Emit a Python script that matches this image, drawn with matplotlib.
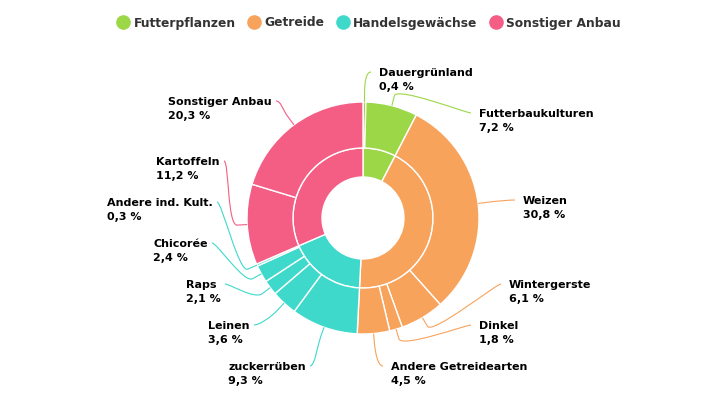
import matplotlib

matplotlib.use("Agg")
import matplotlib.pyplot as plt
import numpy as np
from matplotlib.lines import Line2D
from matplotlib.path import Path
from matplotlib.patches import PathPatch

# ── Data ──────────────────────────────────────────────────────────────────────

GROUPS = ["Futterpflanzen", "Getreide", "Handelsgewächse", "Sonstiger Anbau"]
CROPS = [
    "Dauergrünland", "Futterbaukulturen",
    "Weizen", "Wintergerste", "Dinkel", "Andere Getreidearten",
    "zuckerrüben", "Leinen", "Raps", "Chicorée", "Andere ind. Kult.",
    "Kartoffeln", "Sonstiger Anbau",
]
CROP_SHARES = [0.4, 7.2, 30.8, 6.1, 1.8, 4.5, 9.3, 3.6, 2.1, 2.4, 0.3, 11.2, 20.3]
CROP_GROUP = [0, 0, 1, 1, 1, 1, 2, 2, 2, 2, 2, 3, 3]

# ── Style / layout ────────────────────────────────────────────────────────────

GROUP_COLORS = ["#9cd747", "#f7a35c", "#3fd9cc", "#f45e84"]
W, H = 725, 400
CX, CY = 363, 218          # pixel coords (y down)
R_OUT, R_MID, R_HOLE = 116, 70, 41

# label anchor: (side, text x, first-line y) in pixel coords
LABEL_POS = [
    ("r", 379, 73), ("r", 479, 114),
    ("r", 523, 201), ("r", 509, 285), ("r", 479, 326), ("r", 391, 367),
    ("l", 306, 367), ("l", 250, 326), ("l", 221, 285), ("l", 208, 244), ("l", 213, 203),
    ("l", 220, 162), ("l", 272, 102),
]


def fy(y):
    return H - y


def fmt(v):
    return f"{v:.1f}".replace(".", ",") + " %"


group_shares = [sum(s for s, g in zip(CROP_SHARES, CROP_GROUP) if g == i) for i in range(len(GROUPS))]
crop_colors = [GROUP_COLORS[g] for g in CROP_GROUP]

fig = plt.figure(figsize=(W / 100, H / 100), dpi=100)
ax = fig.add_axes([0, 0, 1, 1])

wp = dict(edgecolor="white", linewidth=1.0)
ax.pie(group_shares, radius=R_MID, center=(CX, fy(CY)), startangle=90, counterclock=False,
       colors=GROUP_COLORS, wedgeprops=dict(width=R_MID - R_HOLE, **wp), frame=True)
ax.pie(CROP_SHARES, radius=R_OUT, center=(CX, fy(CY)), startangle=90, counterclock=False,
       colors=crop_colors, wedgeprops=dict(width=R_OUT - R_MID, **wp), frame=True)

# data labels with soft connectors
cum = np.cumsum([0] + CROP_SHARES)
total = cum[-1]
for i, (name, val) in enumerate(zip(CROPS, CROP_SHARES)):
    side, tx, ty = LABEL_POS[i]
    theta = 2 * np.pi * (cum[i] + val / 2) / total
    touch = np.array([CX + R_OUT * np.sin(theta), fy(CY) + R_OUT * np.cos(theta)])
    brk = np.array([CX + (R_OUT + 10) * np.sin(theta), fy(CY) + (R_OUT + 10) * np.cos(theta)])
    if side == "r":
        lx = tx - 8
        c1 = (lx - 5, fy(ty - 1))
        ha = "left"
    else:
        lx = tx + 4
        c1 = (lx + 5, fy(ty - 1))
        ha = "right"
    start = (lx, fy(ty - 1))
    c2 = 2 * brk - touch
    path = Path([start, c1, tuple(c2), tuple(brk), tuple(touch)],
                [Path.MOVETO, Path.CURVE4, Path.CURVE4, Path.CURVE4, Path.LINETO])
    ax.add_patch(PathPatch(path, facecolor="none", edgecolor=crop_colors[i], linewidth=0.8))
    ax.text(tx, fy(ty - 5), f"{name}\n{fmt(val)}", ha=ha, va="top", multialignment="left",
            fontsize=8, fontweight="bold", color="black", linespacing=1.5)

ax.set_xlim(0, W)
ax.set_ylim(0, H)
ax.set_aspect("equal")
ax.axis("off")

handles = [Line2D([], [], marker="o", linestyle="none", markersize=9.5,
                  markerfacecolor=c, markeredgecolor=c) for c in GROUP_COLORS]
leg = fig.legend(handles, GROUPS, loc="center", bbox_to_anchor=(0.51, 1 - 23 / H), ncol=4,
                 frameon=False, handlelength=0.8, handletextpad=0.45, columnspacing=1.1,
                 prop=dict(size=8.8, weight="bold"))
for t in leg.get_texts():
    t.set_color("#333333")

fig.savefig("out.png", dpi=100)
